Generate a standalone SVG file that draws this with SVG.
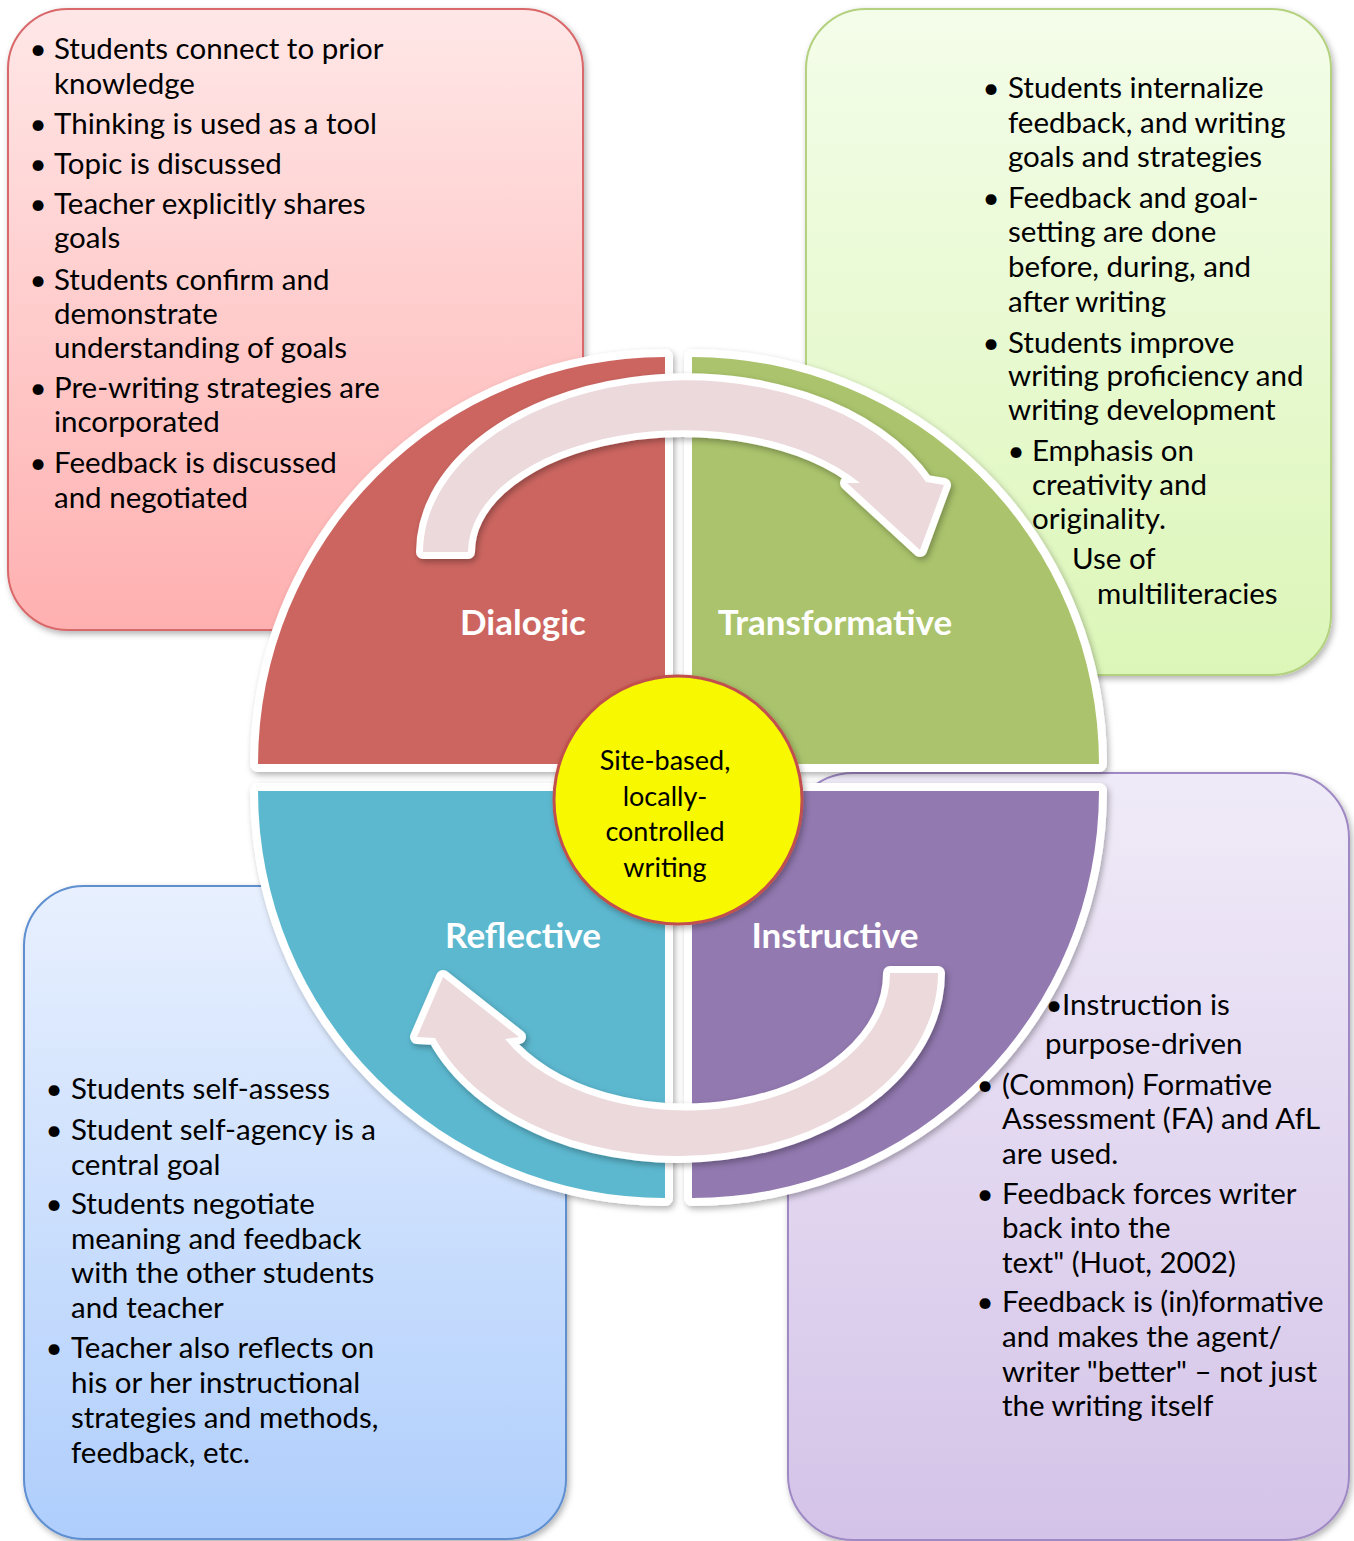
<svg xmlns="http://www.w3.org/2000/svg" width="1354" height="1541" viewBox="0 0 1354 1541">
<defs>
  <linearGradient id="gPink" x1="0" y1="0" x2="0" y2="1"><stop offset="0" stop-color="#ffe7e7"/><stop offset="1" stop-color="#ffb0b0"/></linearGradient>
  <linearGradient id="gGreen" x1="0" y1="0" x2="0" y2="1"><stop offset="0" stop-color="#f4fdea"/><stop offset="1" stop-color="#dcf6b8"/></linearGradient>
  <linearGradient id="gBlue" x1="0" y1="0" x2="0" y2="1"><stop offset="0" stop-color="#e8f0fe"/><stop offset="1" stop-color="#afcefc"/></linearGradient>
  <linearGradient id="gPurple" x1="0" y1="0" x2="0" y2="1"><stop offset="0" stop-color="#f0ebf8"/><stop offset="1" stop-color="#d4c3e8"/></linearGradient>
  <filter id="shadow" x="-10%" y="-10%" width="125%" height="125%"><feDropShadow dx="2" dy="3" stdDeviation="3" flood-color="#000" flood-opacity="0.3"/></filter>
</defs>
<style>
  .box{stroke-width:2;filter:url(#shadow)}
  .list{font-family:Lato,"Open Sans",sans-serif;font-size:29.5px;fill:#000}
  .bul{font-family:Lato,"Open Sans",sans-serif;font-size:29.5px;fill:#000;text-anchor:middle}
  .quad{stroke:#fff;stroke-width:16;paint-order:stroke;stroke-linejoin:round;filter:url(#shadow)}
  .qlabel{font-family:Lato,"Open Sans",sans-serif;font-weight:700;font-size:35px;fill:#fff;text-anchor:middle}
  .arrow{fill:#ecd9db;stroke:#fff;stroke-width:14;stroke-linejoin:round;paint-order:stroke;filter:url(#shadow)}
  .ctext{font-family:Lato,"Open Sans",sans-serif;font-size:27px;fill:#000;text-anchor:middle}
</style>

<g id="box-dialogic-bg"><rect class="box" x="8" y="9" width="575" height="621" rx="60" fill="url(#gPink)" stroke="#d9686a"/></g>
<g id="box-transformative-bg"><rect class="box" x="806" y="9" width="525" height="666" rx="60" fill="url(#gGreen)" stroke="#b3d17e"/></g>
<g id="box-reflective-bg"><rect class="box" x="24" y="886" width="542" height="653" rx="60" fill="url(#gBlue)" stroke="#5e8fd0"/></g>
<g id="box-instructive-bg"><rect class="box" x="788" y="773" width="561" height="767" rx="65" fill="url(#gPurple)" stroke="#9f89c4"/></g>

<g id="quad-dialogic"><path class="quad" fill="#cc6560" d="M665,764 L258,764 A407,407 0 0 1 665,357 Z"/><text class="qlabel" x="523" y="635">Dialogic</text></g>
<g id="quad-transformative"><path class="quad" fill="#aac36c" d="M692,764 L692,357 A407,407 0 0 1 1099,764 Z"/><text class="qlabel" x="835" y="635">Transformative</text></g>
<g id="quad-reflective"><path class="quad" fill="#5bb8cf" d="M665,791 L665,1198 A407,407 0 0 1 258,791 Z"/><text class="qlabel" x="523" y="948">Reflective</text></g>
<g id="quad-instructive"><path class="quad" fill="#9279b0" d="M692,791 L1099,791 A407,407 0 0 1 692,1198 Z"/><text class="qlabel" x="835" y="948">Instructive</text></g>

<g id="connectors">
  <path class="arrow" d="M423,552 A263,172 0 0 1 926,482 L944,485 L920,550 L847,483 L860,483 A215,122 0 0 0 468,552 Z"/>
  <path class="arrow" d="M938,973 A260,183 0 0 1 435,1038 L417,1037 L443,977 L519,1037 L505,1039 A205,137 0 0 0 890,973 Z"/>
</g>

<g id="center">
  <circle cx="678" cy="800" r="124" fill="#f8f800" stroke="#c0504d" stroke-width="3" filter="url(#shadow)"/>
  <text class="ctext"><tspan x="665" y="770">Site-based,</tspan><tspan x="665" y="806">locally-</tspan><tspan x="665" y="841">controlled</tspan><tspan x="665" y="877">writing</tspan></text>
</g>

<g id="box-dialogic-text">
  <text class="bul"><tspan x="38" y="59">•</tspan><tspan x="38" y="134">•</tspan><tspan x="38" y="174">•</tspan><tspan x="38" y="214">•</tspan><tspan x="38" y="290">•</tspan><tspan x="38" y="398">•</tspan><tspan x="38" y="473">•</tspan></text>
  <text class="list">
    <tspan x="54" y="59">Students connect to prior</tspan>
    <tspan x="54" y="94">knowledge</tspan>
    <tspan x="54" y="134">Thinking is used as a tool</tspan>
    <tspan x="54" y="174">Topic is discussed</tspan>
    <tspan x="54" y="214">Teacher explicitly shares</tspan>
    <tspan x="54" y="248">goals</tspan>
    <tspan x="54" y="290">Students confirm and</tspan>
    <tspan x="54" y="324">demonstrate</tspan>
    <tspan x="54" y="358">understanding of goals</tspan>
    <tspan x="54" y="398">Pre-writing strategies are</tspan>
    <tspan x="54" y="432">incorporated</tspan>
    <tspan x="54" y="473">Feedback is discussed</tspan>
    <tspan x="54" y="508">and negotiated</tspan>
  </text>
</g>

<g id="box-transformative-text">
  <text class="bul"><tspan x="991" y="98">•</tspan><tspan x="991" y="208">•</tspan><tspan x="991" y="353">•</tspan><tspan x="1016" y="461">•</tspan></text>
  <text class="list">
    <tspan x="1008" y="98">Students internalize</tspan>
    <tspan x="1008" y="133">feedback, and writing</tspan>
    <tspan x="1008" y="167">goals and strategies</tspan>
    <tspan x="1008" y="208">Feedback and goal-</tspan>
    <tspan x="1008" y="242">setting are done</tspan>
    <tspan x="1008" y="277">before, during, and</tspan>
    <tspan x="1008" y="312">after writing</tspan>
    <tspan x="1008" y="353">Students improve</tspan>
    <tspan x="1008" y="386">writing proficiency and</tspan>
    <tspan x="1008" y="420">writing development</tspan>
    <tspan x="1032" y="461">Emphasis on</tspan>
    <tspan x="1032" y="495">creativity and</tspan>
    <tspan x="1032" y="529">originality.</tspan>
    <tspan x="1072" y="569">Use of</tspan>
    <tspan x="1097" y="604">multiliteracies</tspan>
  </text>
</g>

<g id="box-reflective-text">
  <text class="bul"><tspan x="54" y="1099">•</tspan><tspan x="54" y="1140">•</tspan><tspan x="54" y="1214">•</tspan><tspan x="54" y="1358">•</tspan></text>
  <text class="list">
    <tspan x="71" y="1099">Students self-assess</tspan>
    <tspan x="71" y="1140">Student self-agency is a</tspan>
    <tspan x="71" y="1175">central goal</tspan>
    <tspan x="71" y="1214">Students negotiate</tspan>
    <tspan x="71" y="1249">meaning and feedback</tspan>
    <tspan x="71" y="1283">with the other students</tspan>
    <tspan x="71" y="1318">and teacher</tspan>
    <tspan x="71" y="1358">Teacher also reflects on</tspan>
    <tspan x="71" y="1393">his or her instructional</tspan>
    <tspan x="71" y="1428">strategies and methods,</tspan>
    <tspan x="71" y="1463">feedback, etc.</tspan>
  </text>
</g>

<g id="box-instructive-text">
  <text class="bul"><tspan x="1054" y="1015">•</tspan><tspan x="985" y="1095">•</tspan><tspan x="985" y="1204">•</tspan><tspan x="985" y="1312">•</tspan></text>
  <text class="list">
    <tspan x="1062" y="1015">Instruction is</tspan>
    <tspan x="1045" y="1054">purpose-driven</tspan>
    <tspan x="1002" y="1095">(Common) Formative</tspan>
    <tspan x="1002" y="1129">Assessment (FA) and AfL</tspan>
    <tspan x="1002" y="1164">are used.</tspan>
    <tspan x="1002" y="1204">Feedback forces writer</tspan>
    <tspan x="1002" y="1238">back into the</tspan>
    <tspan x="1002" y="1273">text" (Huot, 2002)</tspan>
    <tspan x="1002" y="1312">Feedback is (in)formative</tspan>
    <tspan x="1002" y="1347">and makes the agent/</tspan>
    <tspan x="1002" y="1382">writer "better" – not just</tspan>
    <tspan x="1002" y="1416">the writing itself</tspan>
  </text>
</g>
</svg>
